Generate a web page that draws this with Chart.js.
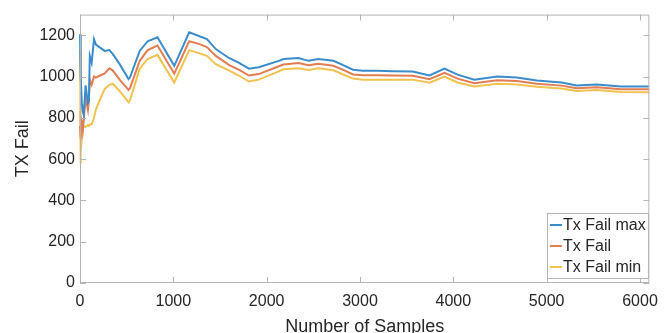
<!DOCTYPE html>
<html><head><meta charset="utf-8">
<script src="https://cdn.jsdelivr.net/npm/chart.js@4/dist/chart.umd.min.js"></script>
<style>html,body{margin:0;padding:0;background:#fff}</style>
</head><body>
<canvas id="c" width="667" height="333"></canvas>
<script>
const samples = [0,5,10,20,30,40,60,85,95,105,125,150,170,215,265,315,350,425,520,535,640,725,830,1010,1170,1280,1360,1455,1595,1700,1810,1915,2130,2180,2340,2450,2555,2715,2820,2925,3030,3190,3350,3565,3745,3905,4045,4225,4470,4680,4895,5160,5320,5535,5800,6100];
const txFailMax = [1205,1145,1000,870,830,814,957,871,880,1100,1067,1181,1155,1140,1124,1128,1110,1060,988,995,1124,1171,1190,1052,1214,1195,1181,1133,1090,1067,1038,1045,1076,1085,1090,1076,1085,1076,1055,1033,1028,1028,1026,1024,1005,1038,1009,985,1000,995,981,971,957,962,952,952];
const txFail = [760,700,800,780,740,790,900,838,880,985,960,1000,995,1005,1015,1040,1030,985,935,943,1076,1128,1150,1014,1171,1157,1143,1100,1057,1033,1005,1012,1050,1058,1066,1055,1062,1052,1032,1010,1006,1006,1005,1004,987,1018,990,968,982,978,965,956,943,948,939,938];
const txFailMin = [1133,580,640,700,745,760,755,765,760,768,770,800,840,890,940,960,965,930,875,885,1038,1085,1105,971,1128,1112,1100,1060,1030,1005,976,985,1025,1035,1040,1032,1040,1030,1010,990,985,985,985,985,970,1000,971,952,965,962,950,942,930,935,925,924];
const seriesLabels = ['Tx Fail max','Tx Fail','Tx Fail min'];
const xTickValues = [0,1000,2000,3000,4000,5000,6000];
const yTickValues = [0,200,400,600,800,1000,1200];

const colors = ['#3a8cca','#e27d52','#f1c250'];
const pts = ys => samples.map((x,i)=>({x:x,y:ys[i]}));
const TXT = '#262626';
const FRAME = '#b5b5b5';
const FONT = '"Liberation Sans", Arial, sans-serif';

const framePlugin = {
  id:'frame',
  afterDatasetsDraw(chart){
    const {ctx, chartArea:a, scales:{x,y}} = chart;
    ctx.save();
    ctx.strokeStyle = FRAME; ctx.lineWidth = 1;
    ctx.strokeRect(a.left+0.5, a.top+0.5, a.right-a.left-1, a.bottom-a.top-1);
    ctx.beginPath();
    xTickValues.forEach(v=>{const px=Math.round(x.getPixelForValue(v))+0.5;
      ctx.moveTo(px,a.bottom); ctx.lineTo(px,a.bottom-6);
      ctx.moveTo(px,a.top); ctx.lineTo(px,a.top+6);});
    yTickValues.forEach(v=>{const py=Math.round(y.getPixelForValue(v))+0.5;
      ctx.moveTo(a.left,py); ctx.lineTo(a.left+6,py);
      ctx.moveTo(a.right,py); ctx.lineTo(a.right-6,py);});
    ctx.stroke();
    ctx.restore();
  },
  afterDraw(chart){
    const {ctx} = chart;
    const bx=547, by=213, bw=101, bh=65;
    ctx.save();
    ctx.fillStyle='#fff'; ctx.fillRect(bx,by,bw,bh);
    ctx.strokeStyle=FRAME; ctx.lineWidth=1; ctx.strokeRect(bx+0.5,by+0.5,bw,bh);
    ctx.font='16px '+FONT;
    ctx.textBaseline='middle'; ctx.fillStyle=TXT;
    chart.data.datasets.forEach((ds,i)=>{
      const cy = by+12+i*21;
      ctx.strokeStyle=ds.borderColor; ctx.lineWidth=2;
      ctx.beginPath(); ctx.moveTo(bx+3,cy); ctx.lineTo(bx+15,cy); ctx.stroke();
      ctx.fillStyle=TXT; ctx.fillText(ds.label, bx+16, cy+1);
    });
    ctx.restore();
  }
};

new Chart(document.getElementById('c'), {
  type:'line',
  data:{datasets:[
    {label:seriesLabels[0], data:pts(txFailMax), borderColor:colors[0]},
    {label:seriesLabels[1], data:pts(txFail), borderColor:colors[1]},
    {label:seriesLabels[2], data:pts(txFailMin), borderColor:colors[2]}
  ].map(d=>Object.assign(d,{borderWidth:2,pointRadius:0,tension:0,fill:false,clip:3}))},
  options:{
    responsive:false, animation:false, devicePixelRatio:1,
    layout:{padding:{left:0,right:13,top:10,bottom:0}},
    plugins:{legend:{display:false}, tooltip:{enabled:false}},
    scales:{
      x:{type:'linear', min:0, max:6100,
        afterBuildTicks:s=>{s.ticks = xTickValues.map(v=>({value:v}));},
        afterFit:s=>{s.height=50;},
        grid:{display:false, drawTicks:false}, border:{display:false},
        ticks:{padding:9, color:TXT, maxRotation:0, callback:v=>String(v), font:{size:16, family:FONT}},
        title:{display:true, text:'Number of Samples', color:TXT, padding:{top:0,bottom:-5}, font:{size:18, family:FONT}}
      },
      y:{type:'linear', min:0, max:1300,
        afterBuildTicks:s=>{s.ticks = yTickValues.map(v=>({value:v}));},
        afterFit:s=>{s.width=80;},
        grid:{display:false, drawTicks:false}, border:{display:false},
        ticks:{padding:5, color:TXT, callback:v=>String(v), font:{size:16, family:FONT}},
        title:{display:true, text:'TX Fail', color:TXT, padding:{top:12,bottom:0}, font:{size:18, family:FONT}}
      }
    }
  },
  plugins:[framePlugin]
});
</script>
</body></html>
